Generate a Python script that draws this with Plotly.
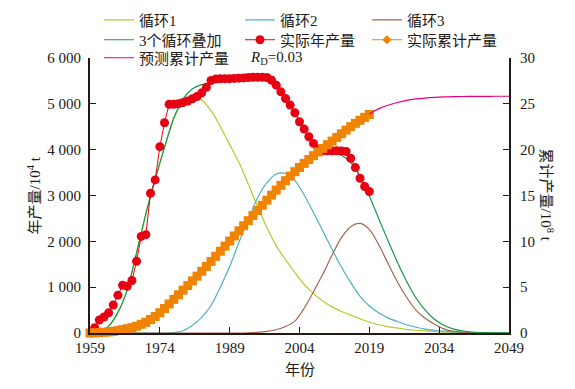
import numpy as np
import plotly.graph_objects as go

# ---------------- data ----------------
model_years = list(range(1959, 2050, 2))

cycle1 = [0, 20, 150, 450, 940, 1750, 2600, 3350, 4050, 4680,
          5060, 5160, 5080, 4850, 4500, 4110, 3720, 3250, 2760, 2300,
          1900, 1600, 1320, 1060, 860, 700, 570, 470, 390, 310,
          240, 180, 140, 110, 80, 60, 45, 30, 20, 15,
          10, 5, 3, 2, 1, 0]

cycle2 = [0, 0, 0, 0, 0, 0, 0, 0, 0, 10,
          50, 170, 340, 600, 1000, 1450, 1980, 2480, 2950, 3280,
          3470, 3480, 3330, 3010, 2630, 2230, 1820, 1440, 1100, 800,
          590, 440, 330, 250, 180, 125, 85, 60, 40, 25,
          15, 10, 5, 3, 1, 0]

cycle3 = [0, 0, 0, 0, 0, 0, 0, 0, 0, 0,
          0, 0, 0, 0, 0, 0, 0, 5, 15, 35,
          70, 140, 260, 540, 900, 1280, 1700, 2080, 2320, 2390,
          2260, 1930, 1520, 1120, 780, 500, 320, 190, 90, 40,
          15, 5, 2, 0, 0, 0]

cycle_sum = [0, 20, 150, 450, 940, 1750, 2600, 3350, 4050, 4690,
             5110, 5330, 5420, 5460, 5480, 5490, 5500, 5520, 5530, 5500,
             5390, 5120, 4810, 4460, 4160, 3990, 3960, 3880, 3720, 3420,
             2990, 2500, 2020, 1550, 1130, 770, 500, 300, 170, 90,
             45, 20, 10, 5, 2, 0]

actual_years = list(range(1960, 2020))
actual_annual = [115, 283, 350, 440, 610, 826, 1043, 1020, 1145, 1565,
                 2108, 2145, 3050, 3340, 4065, 4587, 4990, 4990, 5000, 5030,
                 5060, 5110, 5160, 5240, 5360, 5510, 5540, 5545, 5550, 5550,
                 5555, 5560, 5565, 5575, 5580, 5580, 5580, 5575, 5515, 5407,
                 5261, 5116, 4972, 4805, 4609, 4450, 4283, 4137, 4015, 3975,
                 3975, 3975, 3975, 3970, 3960, 3811, 3609, 3376, 3196, 3087]

cum_years = [1959] + actual_years
cum_actual = list(np.concatenate([[0.0], np.cumsum(actual_annual) / 1e4]))

pred_years = list(range(2019, 2050, 2))
pred_cum = [23.9, 24.45, 24.85, 25.15, 25.38, 25.53, 25.63, 25.70,
            25.75, 25.78, 25.80, 25.81, 25.82, 25.82, 25.83, 25.83]

x_ticks = [1959, 1974, 1989, 2004, 2019, 2034, 2049]
y_ticks = [0, 1000, 2000, 3000, 4000, 5000, 6000]
y_ticktext = ["0", "1 000", "2 000", "3 000", "4 000", "5 000", "6 000"]
y2_ticks = [0, 5, 10, 15, 20, 25, 30]

# ---------------- styling ----------------
FONT = "Liberation Serif, Noto Sans CJK SC, serif"
INK = "#231815"
C1, C2, C3 = "#b2cc2a", "#4fafc6", "#a5644f"
CSUM, CRED, CORG, CPINK = "#16984a", "#e60012", "#f08300", "#e4007f"

fig = go.Figure()
sp = dict(shape="spline", smoothing=0.8, width=1.2)
fig.add_trace(go.Scatter(x=model_years, y=cycle1, mode="lines", name="循环1",
                         legend="legend", line=dict(color=C1, **sp)))
fig.add_trace(go.Scatter(x=model_years, y=cycle2, mode="lines", name="循环2",
                         legend="legend2", line=dict(color=C2, **sp)))
fig.add_trace(go.Scatter(x=model_years, y=cycle3, mode="lines", name="循环3",
                         legend="legend3", line=dict(color=C3, **sp)))
fig.add_trace(go.Scatter(x=model_years, y=cycle_sum, mode="lines", name="3个循环叠加",
                         legend="legend4", line=dict(color=CSUM, **sp)))
fig.add_trace(go.Scatter(x=actual_years, y=actual_annual, mode="lines+markers",
                         name="实际年产量", cliponaxis=False, legend="legend5",
                         line=dict(color=CRED, width=1),
                         marker=dict(symbol="circle", size=9, color=CRED)))
fig.add_trace(go.Scatter(x=cum_years, y=cum_actual, mode="lines+markers",
                         name="实际累计产量", yaxis="y2", cliponaxis=False,
                         showlegend=False,
                         line=dict(color=CORG, width=1),
                         marker=dict(symbol="square", size=9, color=CORG)))
# legend key for the cumulative series (small diamond, as in the reference)
fig.add_trace(go.Scatter(x=[None], y=[None], mode="lines+markers",
                         name="实际累计产量", yaxis="y2", legend="legend6",
                         line=dict(color=CORG, width=1),
                         marker=dict(symbol="diamond", size=7, color=CORG)))
fig.add_trace(go.Scatter(x=pred_years, y=pred_cum, mode="lines",
                         name="预测累计产量", yaxis="y2", legend="legend7",
                         line=dict(color=CPINK, shape="spline", smoothing=0.8, width=1.2)))

axis_common = dict(showgrid=False, zeroline=False, showline=True, linecolor=INK,
                   linewidth=2, ticks="inside", ticklen=6, tickwidth=1.2,
                   tickcolor=INK, tickfont=dict(family=FONT, size=15, color=INK))

def leg(x, y):
    return dict(orientation="v", xanchor="left", yanchor="middle", x=x, y=y,
                bgcolor="rgba(0,0,0,0)", itemwidth=30, tracegroupgap=0,
                font=dict(family=FONT, size=15, color=INK))

col_x = [0.0215, 0.358, 0.661]
row_y = [1.138, 1.0655, 1.0]

# page has an 8 px body margin: figure is sized/offset so the plot area
# lands at x 90-509, y 58-333 in the 575x389 window
fig.update_layout(
    width=567, height=381,
    margin=dict(l=82, r=66, t=50, b=56, autoexpand=False),
    paper_bgcolor="white", plot_bgcolor="white",
    font=dict(family=FONT, size=15, color=INK),
    xaxis=dict(range=[1959, 2049], tickvals=x_ticks, **axis_common),
    yaxis=dict(range=[0, 6000], tickvals=y_ticks, ticktext=y_ticktext,
               ticklabelstandoff=4, **axis_common),
    yaxis2=dict(range=[0, 30], tickvals=y2_ticks, overlaying="y", side="right",
                ticklabelstandoff=6, **axis_common),
    legend=leg(col_x[0], row_y[0]),
    legend2=leg(col_x[1], row_y[0]),
    legend3=leg(col_x[2], row_y[0]),
    legend4=leg(col_x[0], row_y[1]),
    legend5=leg(col_x[1], row_y[1]),
    legend6=leg(col_x[2], row_y[1]),
    legend7=leg(col_x[0], row_y[2]),
    showlegend=True,
    annotations=[
        dict(text="<i>R</i><sub>D</sub>=0.03", xref="paper", yref="paper",
             x=0.377, y=1.0, xanchor="left", yanchor="middle", showarrow=False,
             font=dict(family=FONT, size=15, color=INK)),
        dict(text="年产量/10<sup>4</sup> t", xref="paper", yref="paper",
             x=-0.136, y=0.5, textangle=-90, showarrow=False,
             xanchor="center", yanchor="middle",
             font=dict(family=FONT, size=15, color=INK)),
        dict(text="累计产量/10<sup>8</sup> t", xref="paper", yref="paper",
             x=1.093, y=0.5, textangle=90, showarrow=False,
             xanchor="center", yanchor="middle",
             font=dict(family=FONT, size=15, color=INK)),
        dict(text="年份", xref="paper", yref="paper",
             x=0.5, y=-0.135, showarrow=False, xanchor="center", yanchor="middle",
             font=dict(family=FONT, size=15, color=INK)),
    ],
)

fig.write_html("out.html")
